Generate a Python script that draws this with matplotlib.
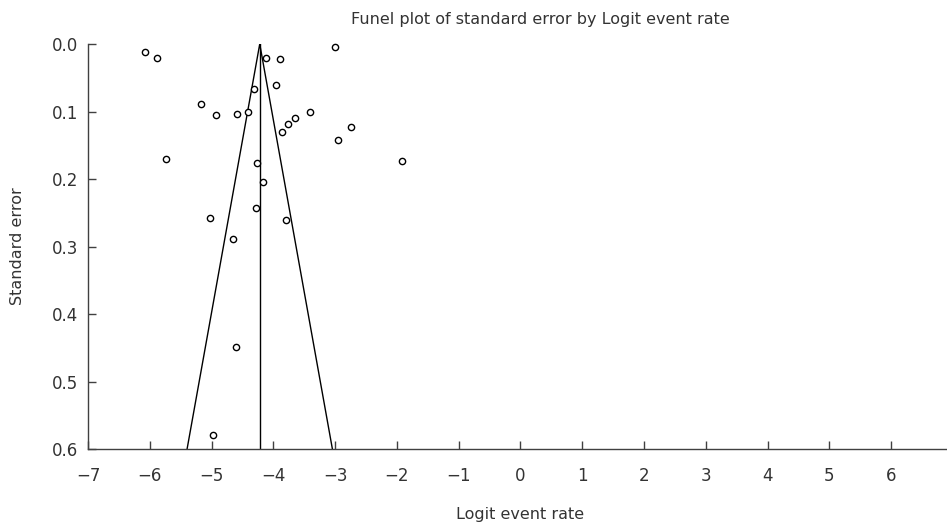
import numpy as np
from matplotlib import pyplot as plt
from matplotlib.ticker import FormatStrFormatter

plt.rcParams['font.family'] = ['DejaVu Sans']

# study points
logit_rate = [-6.07, -5.88, -3.00, -4.12, -3.89, -3.95, -4.31, -5.17, -4.93, -4.58,
              -4.41, -3.41, -3.65, -3.77, -3.86, -2.74, -2.95, -5.73, -1.92, -4.27,
              -4.17, -4.28, -5.03, -3.80, -4.65, -4.60, -4.98]
std_error = [0.012, 0.021, 0.004, 0.021, 0.022, 0.060, 0.067, 0.089, 0.105, 0.104,
             0.100, 0.100, 0.110, 0.118, 0.131, 0.123, 0.142, 0.170, 0.174, 0.176,
             0.204, 0.243, 0.258, 0.260, 0.289, 0.449, 0.579]

pooled = -4.22
se_max = 0.6
x_ticks = list(range(-7, 8))
y_ticks = [0.0, 0.1, 0.2, 0.3, 0.4, 0.5, 0.6]

fig = plt.figure(figsize=(9.47, 5.24), dpi=100)
ax = fig.add_axes([0.0929, 0.1431, 0.9134, 0.7729])

# funnel
ax.plot([pooled - 1.96 * se_max, pooled, pooled + 1.96 * se_max], [se_max, 0, se_max],
        color='black', lw=1.0, solid_joinstyle='miter')
ax.plot([pooled, pooled], [0, se_max], color='black', lw=1.0)

ax.plot(logit_rate, std_error, 'o', mfc='white', mec='black', mew=1.0, ms=4.5,
        linestyle='none', clip_on=False)

ax.set_xlim(-7, 7)
ax.set_ylim(0.6, 0.0)
ax.set_xticks(x_ticks)
ax.set_yticks(y_ticks)
ax.yaxis.set_major_formatter(FormatStrFormatter('%.1f'))

for side in ['top', 'right']:
    ax.spines[side].set_visible(False)
for side in ['left', 'bottom']:
    ax.spines[side].set_color('#404040')
    ax.spines[side].set_linewidth(1.0)

ax.tick_params(direction='in', length=6, width=1, color='#404040',
               labelsize=12, labelcolor='#333333')
ax.tick_params(axis='x', pad=13)
ax.tick_params(axis='y', pad=7)

ax.set_xlabel('Logit event rate', fontsize=11.5, color='#333333', labelpad=16)
ax.set_ylabel('Standard error', fontsize=11.5, color='#333333', labelpad=19)
fig.text(0.571, 0.962, 'Funel plot of standard error by Logit event rate',
         ha='center', va='center', fontsize=11.5, color='#333333')

fig.savefig('out.png', dpi=100)
